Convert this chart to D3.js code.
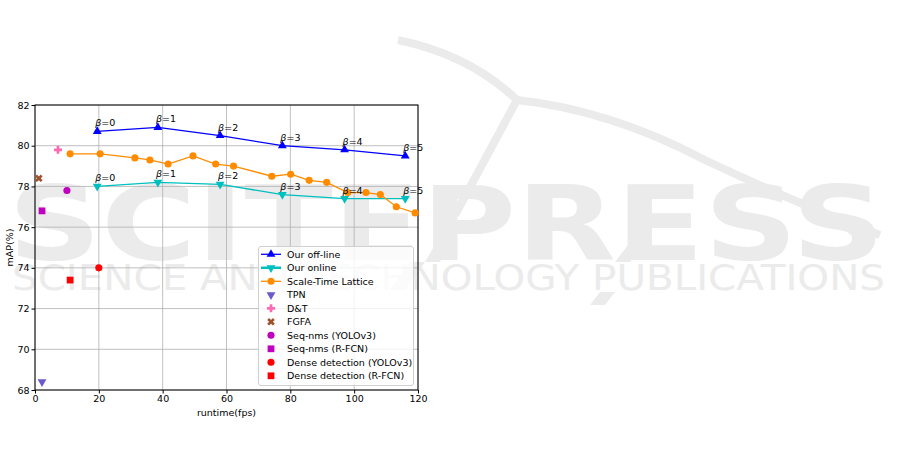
<!DOCTYPE html>
<html><head><meta charset="utf-8">
<script src="https://cdn.jsdelivr.net/npm/d3@7"></script>
<style>body{margin:0;background:#fff;}svg{display:block;font-family:"DejaVu Sans",sans-serif;}</style>
</head><body>
<svg id="c" width="901" height="460"></svg>
<script>
const betaX = [19.5, 38.5, 58, 77.5, 97, 116];
const offlineY = [80.7, 80.9, 80.5, 80.0, 79.8, 79.5];
const onlineY = [78.0, 78.2, 78.1, 77.6, 77.4, 77.4];
const betaLabels = ["0","1","2","3","4","5"];
const stlX = [11, 20.4, 31.3, 36, 41.7, 49.5, 56.6, 62.2, 74.2, 80.1, 85.9, 91.4, 98.0, 103.7, 108.2, 113.2, 119.1];
const stlY = [79.6, 79.6, 79.4, 79.3, 79.1, 79.5, 79.1, 79.0, 78.5, 78.6, 78.3, 78.2, 77.7, 77.7, 77.6, 77.0, 76.7];
const singleNames = ["TPN","D&T","FGFA","Seq-nms (YOLOv3)","Seq-nms (R-FCN)","Dense detection (YOLOv3)","Dense detection (R-FCN)"];
const singleX = [2.2, 7.2, 1.2, 10, 2.2, 20, 11];
const singleY = [68.4, 79.8, 78.4, 77.8, 76.8, 74.0, 73.4];
const singleColors = ["#6a5acd","#ff69b4","#a0522d","#bf00bf","#bf00bf","#ff0000","#ff0000"];
const singleShapes = ["tridown","plus","x","circle","square","circle","square"];
const xTicks = [0,20,40,60,80,100,120];
const yTicks = [68,70,72,74,76,78,80,82];

const svg = d3.select("#c");

// watermark
const wm = svg.append("g").attr("fill","#ebebeb").attr("stroke","none");
wm.append("path").attr("d","M398,40 Q470,55 517,100 Q610,110 705,160 Q800,205 880,235")
  .attr("fill","none").attr("stroke","#ebebeb").attr("stroke-width",8);
wm.append("path").attr("d","M517,100 L455,215").attr("fill","none").attr("stroke","#ebebeb").attr("stroke-width",8);
wm.append("path").attr("d","M440,236 L455,236 L440,262 L425,262 Z");
wm.append("path").attr("d","M635,236 L650,236 L630,262 L615,262 Z");
wm.append("path").attr("d","M410,262 L425,262 L405,290 L390,290 Z");
wm.append("path").attr("d","M600,292 L615,292 L605,305 L590,305 Z");
wm.append("text").attr("x",8).attr("y",260).attr("font-size",103).attr("font-weight","bold")
  .attr("textLength",877).attr("lengthAdjust","spacingAndGlyphs").text("SCITEPRESS");
wm.append("text").attr("x",12).attr("y",290).attr("font-size",36)
  .attr("textLength",873).attr("lengthAdjust","spacingAndGlyphs").text("SCIENCE AND TECHNOLOGY PUBLICATIONS");

const L = 35, R = 418, T = 105, B = 390;
const x = d3.scaleLinear().domain([0,120]).range([L,R]);
const y = d3.scaleLinear().domain([68,82]).range([B,T]);

// grid
const grid = svg.append("g").attr("stroke","#b0b0b0").attr("stroke-width",0.8);
xTicks.forEach(t=>grid.append("line").attr("x1",x(t)).attr("x2",x(t)).attr("y1",T).attr("y2",B));
yTicks.forEach(t=>grid.append("line").attr("y1",y(t)).attr("y2",y(t)).attr("x1",L).attr("x2",R));

// axes
const xa = svg.append("g").attr("transform",`translate(0,${B})`)
  .call(d3.axisBottom(x).tickValues(xTicks).tickSize(3.5).tickPadding(2));
const ya = svg.append("g").attr("transform",`translate(${L},0)`)
  .call(d3.axisLeft(y).tickValues(yTicks).tickSize(3.5).tickPadding(2));
[xa,ya].forEach(a=>{a.select(".domain").remove();a.selectAll("text").attr("font-size",9.5).attr("font-family","DejaVu Sans").attr("fill","#000");a.selectAll("line").attr("stroke","#000");});
svg.append("rect").attr("x",L).attr("y",T).attr("width",R-L).attr("height",B-T).attr("fill","none").attr("stroke","#000").attr("stroke-width",1);

svg.append("text").attr("x",(L+R)/2).attr("y",416).attr("text-anchor","middle").attr("font-size",9.5).text("runtime(fps)");
svg.append("text").attr("transform",`translate(13,${(T+B)/2}) rotate(-90)`).attr("text-anchor","middle").attr("font-size",9.5).text("mAP(%)");

function shapePath(s){
  if(s==="triup") return d3.symbol(d3.symbolTriangle, 34)();
  if(s==="tridown") return d3.symbol(d3.symbolTriangle, 34)();
  if(s==="circle") return d3.symbol(d3.symbolCircle, 40)();
  if(s==="square") return d3.symbol(d3.symbolSquare, 46)();
  if(s==="plus") return d3.symbol(d3.symbolCross, 36)();
  if(s==="x") return d3.symbol(d3.symbolCross, 36)();
}
function rot(s){ return s==="tridown"?180:(s==="x"?45:0); }
function marker(g, px, py, s, color){
  g.append("path").attr("d",shapePath(s)).attr("fill",color)
   .attr("transform",`translate(${px},${py}) rotate(${rot(s)})`);
}

const line = d3.line();
function series(xs, ys, color, lw, shape){
  const g = svg.append("g");
  g.append("path").attr("d",line(xs.map((v,i)=>[x(v),y(ys[i])]))).attr("fill","none").attr("stroke",color).attr("stroke-width",lw);
  xs.forEach((v,i)=>marker(g,x(v),y(ys[i]),shape,color));
}
series(betaX, offlineY, "#0000ff", 1.3, "triup");
series(betaX, onlineY, "#00bfbf", 1.3, "tridown");
series(stlX, stlY, "#ff8c00", 1.3, "circle");

singleX.forEach((v,i)=>marker(svg, x(v), y(singleY[i]), singleShapes[i], singleColors[i]));

function betaLabel(xs, ys){
  xs.forEach((v,i)=>{
    const t = svg.append("text").attr("x",x(v)-2).attr("y",y(ys[i])-5).attr("font-size",9.5);
    t.append("tspan").attr("font-style","italic").text("β");
    t.append("tspan").text("="+betaLabels[i]);
  });
}
betaLabel(betaX, offlineY);
betaLabel(betaX, onlineY);

// legend
const lg = svg.append("g");
lg.append("rect").attr("x",258.5).attr("y",246.5).attr("width",155).attr("height",139).attr("rx",2.5)
  .attr("fill","#fff").attr("fill-opacity",0.8).attr("stroke","#d0d0d0");
const legItems = [
  {name:"Our off-line", color:"#0000ff", shape:"triup", line:true, lw:1.3},
  {name:"Our online", color:"#00bfbf", shape:"tridown", line:true, lw:2.5},
  {name:"Scale-Time Lattice", color:"#ff8c00", shape:"circle", line:true, lw:1.3}
].concat(singleNames.map((n,i)=>({name:n,color:singleColors[i],shape:singleShapes[i],line:false})));
legItems.forEach((d,i)=>{
  const cy = 254.3 + i*13.5;
  if(d.line) lg.append("line").attr("x1",261).attr("x2",281).attr("y1",cy).attr("y2",cy).attr("stroke",d.color).attr("stroke-width",d.lw);
  marker(lg, 271, cy, d.shape, d.color);
  lg.append("text").attr("x",287).attr("y",cy+3.5).attr("font-size",9.5).text(d.name);
});
</script>
</body></html>
